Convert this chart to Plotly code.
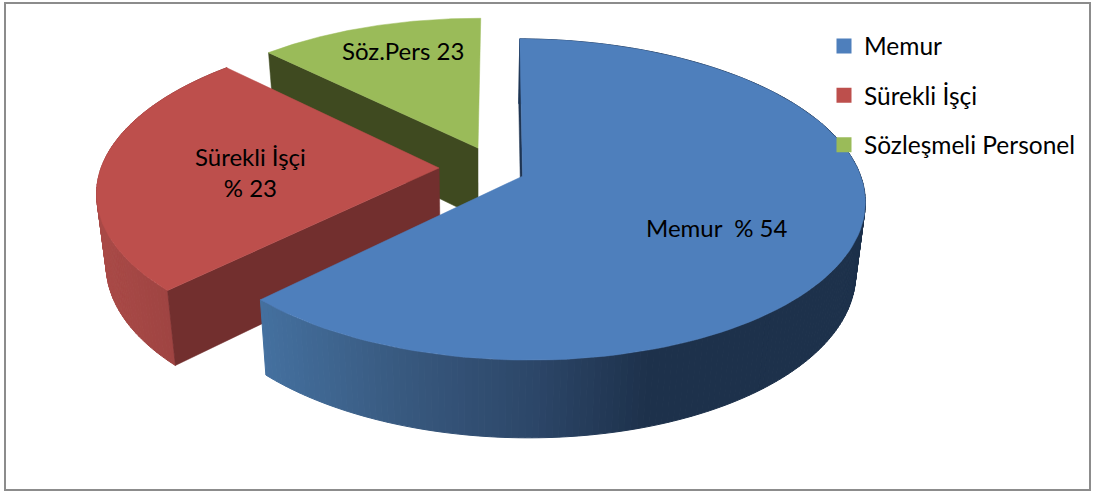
import numpy as np
import plotly.graph_objects as go

categories = ["Memur", "Sürekli İşçi", "Sözleşmeli Personel"]
values = [62.4, 25.0, 12.6]
data_labels = ["Memur  % 54", "Sürekli İşçi<br>% 23", "Söz.Pers 23"]

# Styles and projection of the tilted pie (layout, not data)
TOP = ["#4E7FBC", "#BD4F4C", "#9ABB59"]
CUT = ["#1F3552", "#722F2E", "#3F4A20"]
LABEL_POS = [(717, 227), (250, 172), (403, 50)]
APEX = [(0.125, -0.052), (-0.121, 0.0), (-0.006, 0.13)]
RADIUS = [0.993, 1.0, 0.985]
X0, Y0, RX, RY, P, H, S = 480, 168, 338, 156, 0.145, 70, 0.975
ROT = 0.5
FONT = "Lato, Carlito, 'Open Sans', sans-serif"
FS = 24


def project(X, Y, bottom=False):
    X, Y = np.asarray(X, float), np.asarray(Y, float)
    w = 1 + P * Y
    sx, sy = RX * X / w, -RY * Y / w
    if bottom:
        return X0 + S * sx, Y0 + S * sy + H / w
    return X0 + sx, Y0 + sy


def rim(i, deg):
    t = np.radians(deg)
    return APEX[i][0] + RADIUS[i] * np.sin(t), APEX[i][1] + RADIUS[i] * np.cos(t)


def hexrgb(c):
    return [int(c[i:i + 2], 16) for i in (1, 3, 5)]


def ramp(x, xs, cols):
    rgb = [np.interp(x, xs, [hexrgb(c)[k] for c in cols]) for k in range(3)]
    return "rgb(%d,%d,%d)" % tuple(int(round(v)) for v in rgb)


fig = go.Figure()


def poly(xs, ys, color, line=1.0):
    fig.add_trace(go.Scatter(
        x=xs, y=ys, mode="lines", fill="toself", fillcolor=color,
        line=dict(color=color, width=line), hoverinfo="skip", showlegend=False))


edges = np.concatenate([[0], np.cumsum(values)]) * 3.6 + ROT
spans = [(edges[i], edges[i + 1]) for i in range(3)]


def top_face(i):
    a, b = spans[i]
    d = np.linspace(a, b, 121)
    X, Y = rim(i, d)
    sx, sy = project(np.r_[APEX[i][0], X], np.r_[APEX[i][1], Y])
    poly(list(sx) + [sx[0]], list(sy) + [sy[0]], TOP[i], 0.5)


def cut_face(i, deg):
    X, Y = rim(i, deg)
    ax, ay = APEX[i]
    tx, ty = project([ax, X], [ay, Y])
    bx, by = project([ax, X], [ay, Y], bottom=True)
    poly([tx[0], tx[1], bx[1], bx[0], tx[0]], [ty[0], ty[1], by[1], by[0], ty[0]], CUT[i], 0.5)


def outer_wall(i, xs, cols, step=1.0):
    a, b = spans[i]
    d = np.arange(a, b + step, step)
    d[-1] = min(d[-1], b)
    for d0, d1 in zip(d[:-1], d[1:]):
        X, Y = rim(i, np.array([d0, d1]))
        tx, ty = project(X, Y)
        bx, by = project(X, Y, bottom=True)
        c = ramp(tx.mean(), xs, cols)
        poly([tx[0], tx[1], bx[1], bx[0], tx[0]], [ty[0], ty[1], by[1], by[0], ty[0]], c, 1.0)


# Back to front: green, red, blue
cut_face(2, spans[2][0])
top_face(2)

outer_wall(1, [97, 175], ["#A94A47", "#9E4341"])
cut_face(1, spans[1][0])
top_face(1)

outer_wall(0, [262, 400, 535, 650, 866],
           ["#44709F", "#38597F", "#2C4668", "#1D314B", "#1D314B"])
cut_face(0, spans[0][0])
top_face(0)

# Legend entries
for name, col in zip(categories, TOP):
    fig.add_trace(go.Scatter(
        x=[None], y=[None], mode="markers", name=name, legendgroup=name,
        marker=dict(symbol="square", size=15, color=col)))

for text, (lx, ly) in zip(data_labels, LABEL_POS):
    fig.add_annotation(x=lx, y=ly, text=text, showarrow=False,
                       font=dict(family=FONT, size=FS, color="#000000"))

fig.add_shape(type="rect", xref="paper", yref="paper",
              x0=5 / 1093, x1=1090 / 1093, y0=1 - 490 / 494, y1=1 - 3 / 494,
              line=dict(color="#8C8C8C", width=2), layer="below")

fig.update_layout(
    width=1093, height=494, margin=dict(l=0, r=0, t=0, b=0),
    paper_bgcolor="#FFFFFF", plot_bgcolor="#FFFFFF",
    xaxis=dict(range=[0, 1093], visible=False, fixedrange=True),
    yaxis=dict(range=[494, 0], visible=False, fixedrange=True),
    legend=dict(x=824 / 1093, y=1 - 23.5 / 494, xanchor="left", yanchor="top",
                tracegroupgap=14.5, font=dict(family=FONT, size=FS + 0.5, color="#000000"),
                bgcolor="rgba(0,0,0,0)"),
    showlegend=True,
)

fig.write_html("out.html", config=dict(displayModeBar=False),
               post_script="document.body.style.margin='0';document.body.style.overflow='hidden';")
